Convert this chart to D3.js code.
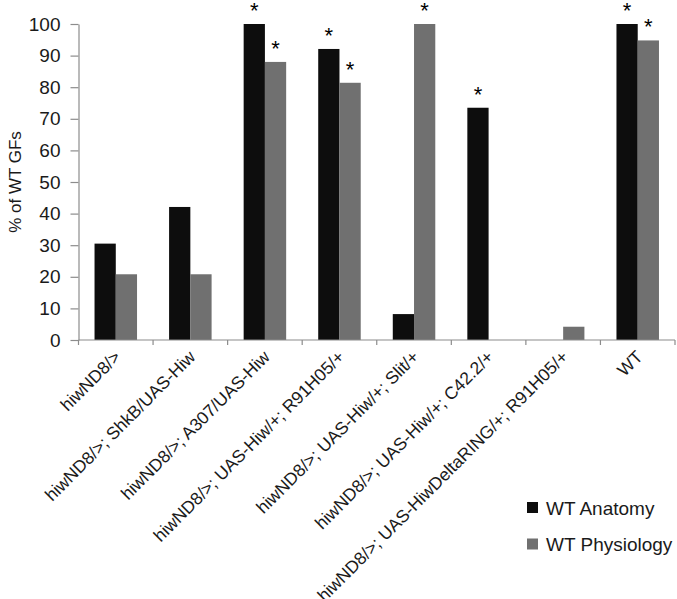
<!DOCTYPE html>
<html>
<head>
<meta charset="utf-8">
<script src="https://cdn.jsdelivr.net/npm/d3@7"></script>
<style>
body{margin:0;background:#fff;}
text{font-family:"Liberation Sans",Arial,sans-serif;fill:#1a1a1a;}
</style>
</head>
<body>
<svg id="chart" width="677" height="599"></svg>
<script>
const categories = [
  "hiwND8/>",
  "hiwND8/>; ShkB/UAS-Hiw",
  "hiwND8/>; A307/UAS-Hiw",
  "hiwND8/>; UAS-Hiw/+; R91H05/+",
  "hiwND8/>; UAS-Hiw/+; Slit/+",
  "hiwND8/>; UAS-Hiw/+; C42.2/+",
  "hiwND8/>; UAS-HiwDeltaRING/+; R91H05/+",
  "WT"
];
const seriesNames = ["WT Anatomy", "WT Physiology"];
const anatomy = [30.5, 42.1, 100, 92.1, 8.2, 73.5, 0, 100];
const physiology = [20.8, 20.8, 88, 81.4, 100, 0, 4.2, 94.8];
const anatomyStar = [false, false, true, true, false, true, false, true];
const physiologyStar = [false, false, true, true, true, false, false, true];
const yTicks = [0, 10, 20, 30, 40, 50, 60, 70, 80, 90, 100];
const colors = ["#0d0d0d", "#707070"];

const svg = d3.select("#chart");
const mLeft = 78.5, mRight = 675, mTop = 24, mBottom = 340;

const x = d3.scaleBand().domain(categories).range([mLeft, mRight]).paddingInner(0.43).paddingOuter(0.215);
const xs = d3.scaleBand().domain(seriesNames).range([0, x.bandwidth()]);
const y = d3.scaleLinear().domain([0, 100]).range([mBottom, mTop]);

const data = categories.map((c, i) => ({
  cat: c,
  vals: [
    {s: seriesNames[0], v: anatomy[i], star: anatomyStar[i]},
    {s: seriesNames[1], v: physiology[i], star: physiologyStar[i]}
  ]
}));

// bars
const g = svg.append("g");
const groups = g.selectAll("g.cat").data(data).join("g")
  .attr("transform", d => `translate(${x(d.cat)},0)`);
groups.selectAll("rect").data(d => d.vals.filter(v => v.v > 0)).join("rect")
  .attr("x", d => xs(d.s))
  .attr("width", xs.bandwidth())
  .attr("y", d => y(d.v))
  .attr("height", d => y(0) - y(d.v))
  .attr("fill", (d) => colors[seriesNames.indexOf(d.s)]);
groups.selectAll("text.star").data(d => d.vals.filter(v => v.star)).join("text")
  .attr("class", "star")
  .attr("x", d => xs(d.s) + xs.bandwidth() / 2)
  .attr("y", d => y(d.v) - 6)
  .attr("text-anchor", "middle")
  .style("font-size", "22px")
  .style("fill", "#000")
  .text("*");

// y axis
const yAxis = d3.axisLeft(y).tickValues(yTicks).tickSize(8).tickPadding(10).tickSizeOuter(0);
const ya = svg.append("g").attr("transform", `translate(${mLeft},0)`).call(yAxis);
ya.selectAll("path,line").attr("stroke", "#8c8c8c").attr("stroke-width", 1.2);
ya.selectAll("text").style("font-size", "19px").style("fill", "#1a1a1a").style("font-family", '"Liberation Sans",Arial,sans-serif');

// x axis (ticks at category boundaries)
const bounds = categories.map(c => x(c) - x.step() * x.paddingInner() / 2).concat([mRight]);
const xa = svg.append("g");
xa.append("line").attr("x1", mLeft).attr("x2", mRight).attr("y1", mBottom).attr("y2", mBottom)
  .attr("stroke", "#8c8c8c").attr("stroke-width", 1.2);
xa.selectAll("line.tick").data(bounds).join("line").attr("class", "tick")
  .attr("x1", d => d).attr("x2", d => d).attr("y1", mBottom).attr("y2", mBottom + 5)
  .attr("stroke", "#8c8c8c").attr("stroke-width", 1.2);
xa.selectAll("text").data(categories).join("text")
  .attr("transform", d => `translate(${x(d) + x.bandwidth() / 2 + 6},${mBottom + 18}) rotate(-45)`)
  .attr("text-anchor", "end")
  .style("font-size", "17.5px")
  .text(d => d);

// y title
svg.append("text")
  .attr("transform", `translate(21,${(mTop + mBottom) / 2}) rotate(-90)`)
  .attr("text-anchor", "middle")
  .style("font-size", "17px")
  .text("% of WT GFs");

// legend
const lg = svg.append("g").selectAll("g").data(seriesNames).join("g")
  .attr("transform", (d, i) => `translate(527,${502 + i * 36.5})`);
lg.append("rect").attr("width", 11).attr("height", 11).attr("fill", (d, i) => colors[i]);
lg.append("text").attr("x", 19).attr("y", 12.5).style("font-size", "19px").text(d => d);
</script>
</body>
</html>
